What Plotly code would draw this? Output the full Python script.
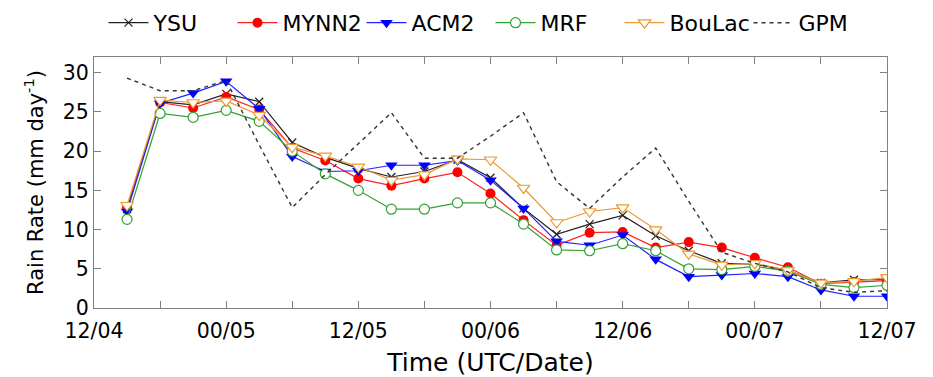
import plotly.graph_objects as go

# Forecast hour since 12 UTC 4th (3-hourly)
hours = [3, 6, 9, 12, 15, 18, 21, 24, 27, 30, 33, 36, 39, 42, 45, 48,
         51, 54, 57, 60, 63, 66, 69, 72]

ysu = [12.6, 26.3, 25.9, 27.3, 26.3, 21.1, 19.2, 17.8, 16.7, 17.4, 18.9, 16.6,
       12.7, 9.4, 10.7, 11.8, 9.2, 7.3, 5.7, 5.6, 4.8, 3.2, 3.6, 3.6]
mynn2 = [12.8, 26.2, 25.5, 26.9, 25.3, 20.4, 18.8, 16.5, 15.6, 16.5, 17.3, 14.6,
         11.2, 8.0, 9.6, 9.7, 7.7, 8.4, 7.7, 6.4, 5.2, 3.1, 3.3, 3.5]
acm2 = [12.3, 26.1, 27.4, 28.9, 25.4, 19.3, 17.4, 17.5, 18.2, 18.2, 18.8, 16.3,
        12.7, 8.5, 8.0, 9.3, 6.2, 4.0, 4.2, 4.4, 4.0, 2.3, 1.5, 1.5]
mrf = [11.3, 24.8, 24.3, 25.2, 23.8, 20.0, 17.1, 15.0, 12.6, 12.6, 13.4, 13.4,
       10.7, 7.4, 7.3, 8.2, 7.3, 5.0, 4.9, 5.3, 4.7, 3.0, 2.6, 2.9]
boulac = [13.1, 26.5, 26.2, 26.4, 24.6, 20.5, 19.4, 18.0, 16.3, 17.0, 19.0, 18.9,
          15.3, 10.9, 12.3, 12.8, 10.0, 6.9, 5.5, 5.7, 4.8, 3.2, 3.4, 3.9]
gpm = [29.3, 27.7, 27.7, 29.0, 20.8, 12.8, 17.0, 20.9, 24.9, 19.1, 19.1, 21.9,
       24.9, 16.1, 12.7, 16.7, 20.4, 13.6, 7.1, 5.7, 4.6, 2.6, 2.0, 2.2]

# Labelled ticks every 12 h, unlabelled ticks in between
tick_hours = [0, 12, 24, 36, 48, 60, 72]
tick_text = ["12/04", "00/05", "12/05", "00/06", "12/06", "00/07", "12/07"]

FONT = "DejaVu Sans, sans-serif"

fig = go.Figure()

fig.add_trace(go.Scatter(
    x=hours, y=ysu, name="YSU", mode="lines+markers",
    line=dict(color="#222222", width=1.2),
    marker=dict(symbol="x-thin", size=8, line=dict(color="#222222", width=1.2))))
fig.add_trace(go.Scatter(
    x=hours, y=mynn2, name="MYNN2", mode="lines+markers",
    line=dict(color="#ff2020", width=1.2),
    marker=dict(symbol="circle", size=10, color="#ff0000")))
fig.add_trace(go.Scatter(
    x=hours, y=acm2, name="ACM2", mode="lines+markers",
    line=dict(color="#2020ff", width=1.2),
    marker=dict(symbol="triangle-down", size=11, color="#0000ff")))
fig.add_trace(go.Scatter(
    x=hours, y=mrf, name="MRF", mode="lines+markers",
    line=dict(color="#35a035", width=1.2),
    marker=dict(symbol="circle", size=10, color="white",
                line=dict(color="#35a035", width=1.2))))
fig.add_trace(go.Scatter(
    x=hours, y=boulac, name="BouLac", mode="lines+markers",
    line=dict(color="#eb9a35", width=1.2),
    marker=dict(symbol="triangle-down", size=11, color="white",
                line=dict(color="#eb9a35", width=1.2))))
fig.add_trace(go.Scatter(
    x=hours, y=gpm, name="GPM", mode="lines",
    line=dict(color="#333333", width=1.4, dash="4px,4px")))

axis_common = dict(
    showline=True, linecolor="#808080", linewidth=1.2, mirror="ticks",
    ticks="inside", ticklen=7, tickcolor="#808080", tickwidth=1.2,
    showgrid=False, zeroline=False, automargin=False,
)

fig.update_layout(
    width=933, height=377,
    margin=dict(l=94, r=46, t=57, b=69, autoexpand=False),
    paper_bgcolor="white", plot_bgcolor="white",
    showlegend=True,
    legend=dict(
        orientation="h", x=0.5, xanchor="center",
        yref="container", y=0.995, yanchor="top",
        font=dict(family=FONT, size=22, color="black"),
        itemwidth=40, entrywidth=74, entrywidthmode="pixels",
    ),
    xaxis=dict(
        range=[0, 72], tickmode="array", tickvals=tick_hours, ticktext=tick_text,
        minor=dict(tickmode="linear", tick0=0, dtick=6, ticks="inside", ticklen=7,
                   tickcolor="#808080", tickwidth=1.2, showgrid=False),
        ticklabelstandoff=4,
        tickfont=dict(family=FONT, size=20.5, color="black"),
        title=dict(text="Time (UTC/Date)", font=dict(family=FONT, size=25, color="black"),
                   standoff=16),
        **axis_common,
    ),
    yaxis=dict(
        range=[0, 32], tickmode="array", tickvals=[0, 5, 10, 15, 20, 25, 30],
        tickfont=dict(family=FONT, size=20.5, color="black"),
        title=dict(text="Rain Rate (mm day<sup>-1</sup>)",
                   font=dict(family=FONT, size=21, color="black"), standoff=13),
        **axis_common,
    ),
)

fig.write_html("out.html")
